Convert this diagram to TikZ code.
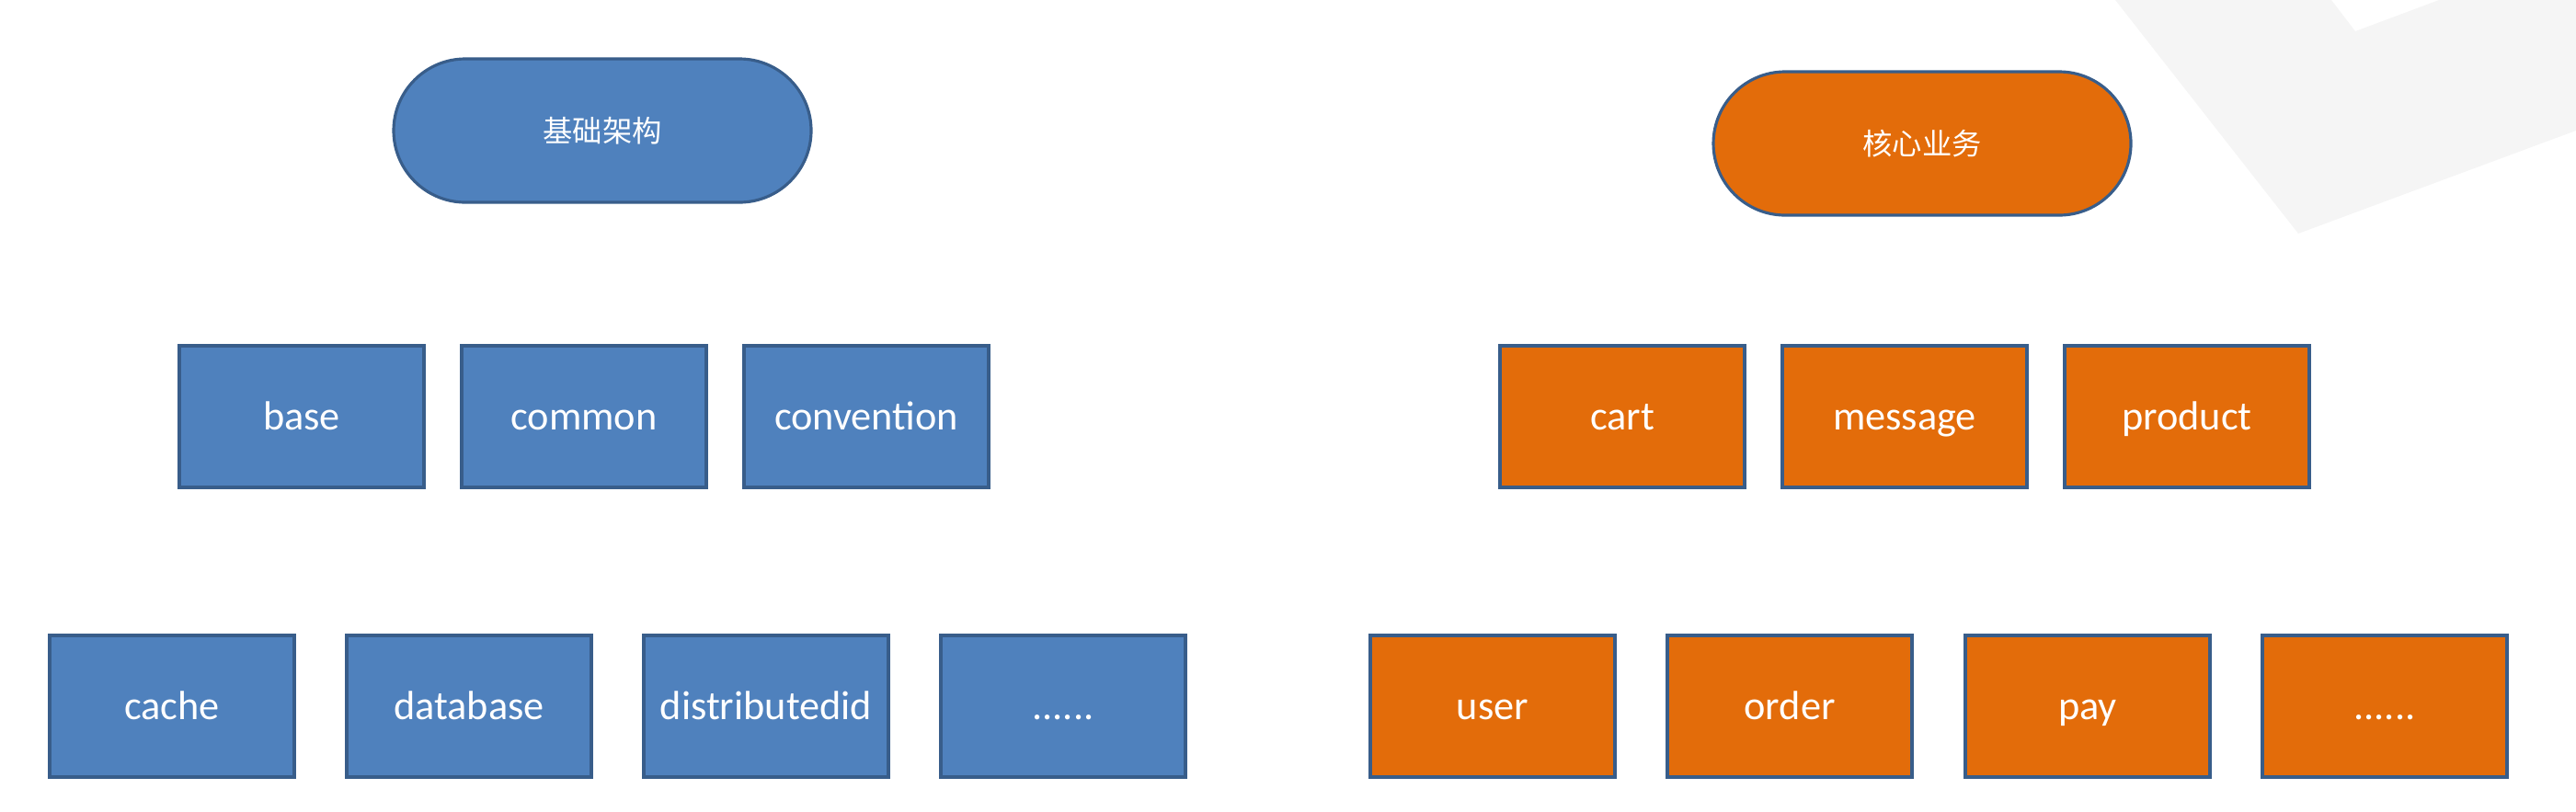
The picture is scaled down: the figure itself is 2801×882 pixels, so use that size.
\documentclass[tikz,border=0pt]{standalone}
\usepackage{fontspec}
\setmainfont{Carlito}
\newfontfamily\cjk{Noto Sans CJK SC}
\definecolor{bfill}{HTML}{4F81BD}
\definecolor{ofill}{HTML}{E36C0A}
\definecolor{edge}{HTML}{385D8A}
\definecolor{deco}{HTML}{F5F5F5}
\begin{document}
\begin{tikzpicture}[x=0.1mm,y=-0.1mm,
  box/.style={rectangle, draw=edge, line width=0.9pt, minimum width=26.6mm, minimum height=15.4mm,
    inner sep=0pt, text=white, text height=10pt, text depth=1.5pt, font=\fontsize{12.6}{15}\selectfont},
  bbox/.style={box, fill=bfill},
  obox/.style={box, fill=ofill},
  pill/.style={rectangle, draw=edge, line width=0.9pt, minimum width=45.4mm, minimum height=15.6mm,
    rounded corners=7.8mm, inner sep=0pt, text=white, font=\cjk\fontsize{9.2}{11}\selectfont}]
\useasboundingbox (0,0) rectangle (2801,882);
% background decoration
\fill[deco] (2300,0) -- (2499,254) -- (2801,142) -- (2801,0) -- (2652,0) -- (2561,34) -- (2535,0) -- cycle;
% top pills
\node[pill, fill=bfill] (infra) at (655,142) {基础架构};
\node[pill, fill=ofill] (core) at (2090,156) {核心业务};
% second row
\node[bbox] (base) at (328,453) {base};
\node[bbox] (common) at (635,453) {common};
\node[bbox] (convention) at (942,453) {convention};
\node[obox] (cart) at (1764,453) {cart};
\node[obox] (message) at (2071,453) {message};
\node[obox] (product) at (2378,453) {product};
% third row
\node[bbox] (cache) at (187,768) {cache};
\node[bbox] (database) at (510,768) {database};
\node[bbox] (distributedid) at (833,768) {distributedid};
\node[bbox] (moreL) at (1156,768) {......};
\node[obox] (user) at (1623,768) {user};
\node[obox] (order) at (1946,768) {order};
\node[obox] (pay) at (2270,768) {pay};
\node[obox] (moreR) at (2593,768) {......};
\end{tikzpicture}
\end{document}
